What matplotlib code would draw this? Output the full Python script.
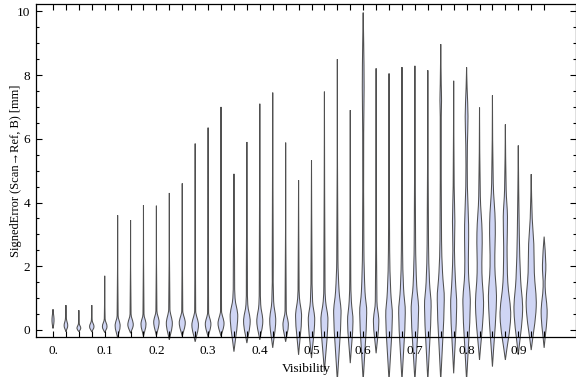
import matplotlib
matplotlib.use('Agg')
import matplotlib.pyplot as plt
from matplotlib.path import Path
from matplotlib.patches import PathPatch
from matplotlib.ticker import MultipleLocator
import numpy as np

plt.rcParams['font.family'] = ['Liberation Serif', 'DejaVu Serif']

# visibility bins, one violin each
visibility = [i * 0.025 for i in range(39)]

# lowest / highest signed error of each bin (mm)
err_min = [0.05, -0.05, -0.05, -0.06, -0.08, -0.25, -0.1, -0.2, -0.18, -0.31,
           -0.2, -0.37, -0.22, -0.2, -0.68, -0.41, -0.31, -0.56, -0.37, -0.78,
           -0.88, -1.3, -1.6, -1.04, -1.6, -0.73, -1.6, -1.6, -1.6, -1.6,
           -1.6, -1.36, -1.6, -0.94, -1.15, -0.94, -0.78, -0.63, -0.56]
err_max = [0.65, 0.78, 0.62, 0.78, 1.7, 3.6, 3.45, 3.92, 3.9, 4.3,
           4.6, 5.85, 6.35, 7.0, 4.9, 5.9, 7.1, 7.45, 5.88, 4.7,
           5.32, 7.48, 8.5, 6.9, 9.96, 8.21, 8.05, 8.25, 8.29, 8.15,
           8.97, 7.82, 8.24, 6.98, 7.36, 6.45, 5.79, 4.89, 2.93]

# density profile of each bin: error levels and relative density there
dens_y = [
    [0.2, 0.35, 0.5], [0.13, 0.35], [0.05, 0.2], [0.1, 0.3], [0.1, 0.35],
    [0.13, 0.45], [0.16, 0.5], [0.18, 0.5], [0.24, 0.6], [0.2, 0.65],
    [0.22, 0.6], [0.15, 0.6], [0.18, 0.55], [0.2, 0.6], [0.42, 1.0, 2.1],
    [0.26, 0.8, 1.9], [0.26, 0.8, 1.9], [0.28, 0.9, 2.1], [0.16, 0.6],
    [0.42, 1.0, 1.5], [0.31, 0.9, 2.0], [0.31, 0.9, 1.4], [0.53, 1.2, 2.2],
    [0.26, 0.9, 1.6], [0.53, 1.2, 2.5, 6.2, 7.6, 9.0], [0.26, 0.9],
    [0.42, 1.2, 2.5], [0.53, 1.3, 2.5], [0.63, 1.4, 2.7], [0.73, 1.5, 2.7],
    [0.94, 1.8, 2.8, 6.7, 7.2, 7.7], [0.73, 1.6, 2.5, 3.4, 4.5],
    [0.84, 1.8, 3.3, 4.5, 5.8, 6.7, 7.6], [0.73, 1.8, 3.04, 4.2],
    [0.94, 2.0, 3.36, 4.6], [0.42, 1.5, 2.6, 3.55, 4.4], [0.6, 1.6, 3.0],
    [0.73, 1.8, 2.7, 3.5], [0.53, 1.36, 2.05]]
dens_w = [
    [0.8, 1.0, 0.5], [1.8, 0.5], [1.9, 0.4], [2.2, 0.4], [2.3, 0.4],
    [2.5, 0.5], [2.7, 0.5], [2.5, 0.5], [2.7, 0.5], [3.0, 0.6],
    [3.0, 0.5], [3.3, 0.5], [2.8, 0.5], [3.0, 0.5], [3.8, 1.1, 0.6],
    [3.3, 0.9, 0.5], [3.0, 0.9, 0.5], [3.0, 0.9, 0.5], [2.7, 0.6],
    [3.0, 0.9, 0.5], [3.2, 1.1, 0.5], [3.5, 1.2, 0.6], [3.7, 1.8, 0.6],
    [2.7, 1.1, 0.5], [3.5, 1.8, 0.7, 0.5, 0.9, 0.5], [2.7, 0.8],
    [3.3, 1.7, 0.6], [3.3, 1.6, 0.6], [3.7, 1.8, 0.7], [3.3, 1.7, 0.7],
    [3.5, 1.8, 0.8, 0.5, 0.8, 0.5], [3.0, 1.7, 0.8, 1.2, 0.5],
    [3.7, 1.9, 2.0, 0.8, 0.8, 1.4, 0.5], [4.0, 2.4, 2.6, 0.8],
    [4.0, 2.4, 2.8, 0.8], [5.3, 2.4, 1.7, 2.1, 0.8], [4.3, 2.3, 1.0],
    [5.0, 3.1, 2.6, 1.0], [3.0, 1.0, 1.7]]

label_pos = [0.0, 0.1, 0.2, 0.3, 0.4, 0.5, 0.6, 0.7, 0.8, 0.9]
label_txt = ['0.', '0.1', '0.2', '0.3', '0.4', '0.5', '0.6', '0.7', '0.8', '0.9']

WIDTH_SCALE = 1.0 / 517  # density unit -> x units
FILL = '#cfd5f4'
EDGE = '#505050'


def side_path(ys, ws):
    # cubic hermite pieces through the knots (y is the curve parameter)
    n = len(ys)
    m = np.zeros(n)
    for i in range(n):
        a = max(i - 1, 0)
        b = min(i + 1, n - 1)
        m[i] = (ws[b] - ws[a]) / (ys[b] - ys[a])
    m[0] = (ws[1] - ws[0]) / (ys[1] - ys[0])
    m[-1] = (ws[-1] - ws[-2]) / (ys[-1] - ys[-2])
    pts = []
    for i in range(n - 1):
        h = ys[i + 1] - ys[i]
        c1 = max(ws[i] + m[i] * h / 3, 0)
        c2 = max(ws[i + 1] - m[i + 1] * h / 3, 0)
        pts += [(c1, ys[i] + h / 3), (c2, ys[i + 1] - h / 3), (ws[i + 1], ys[i + 1])]
    return pts


fig = plt.figure(figsize=(5.76, 3.77), dpi=100)
ax = fig.add_axes([36 / 576, 40 / 377, 540.3 / 576, 333 / 377])

for x0, lo, hi, dy, dw in zip(visibility, err_min, err_max, dens_y, dens_w):
    ys = [lo] + dy + [hi]
    ws = [0.0] + dw + [0.0]
    right = side_path(ys, ws)
    verts = [(x0, lo)] + [(x0 + w * WIDTH_SCALE, y) for w, y in right]
    codes = [Path.MOVETO] + [Path.CURVE4] * len(right)
    left = side_path(ys[::-1], ws[::-1])
    verts += [(x0 - w * WIDTH_SCALE, y) for w, y in left]
    codes += [Path.CURVE4] * len(left)
    verts.append((x0, lo))
    codes.append(Path.CLOSEPOLY)
    ax.add_patch(PathPatch(Path(verts, codes), facecolor=FILL, edgecolor=EDGE,
                           lw=0.75, clip_on=False, zorder=1))

ax.set_xlim(-0.0329, 1.0122)
ax.set_ylim(-0.22, 10.23)

ax.set_xticks(visibility)
ax.set_xticklabels([label_txt[label_pos.index(round(v, 3))] if round(v, 3) in label_pos else ''
                    for v in visibility])
ax.yaxis.set_major_locator(MultipleLocator(2))
ax.yaxis.set_minor_locator(MultipleLocator(0.5))
ax.tick_params(axis='both', which='both', direction='in', top=True, right=True,
               width=0.8, labelsize=9.5, colors='black')
ax.tick_params(axis='x', which='major', length=4, pad=6)
ax.tick_params(axis='y', which='major', length=4.5, pad=4)
ax.tick_params(axis='y', which='minor', length=2.5)
for s in ax.spines.values():
    s.set_linewidth(0.9)

ax.set_xlabel('Visibility', fontsize=9.5, labelpad=4)
ax.set_ylabel('SignedError (Scan\u2192Ref, B) [mm]', fontsize=9)
ax.yaxis.set_label_coords(-0.025, 0.5)

fig.savefig('out.png', dpi=100)
